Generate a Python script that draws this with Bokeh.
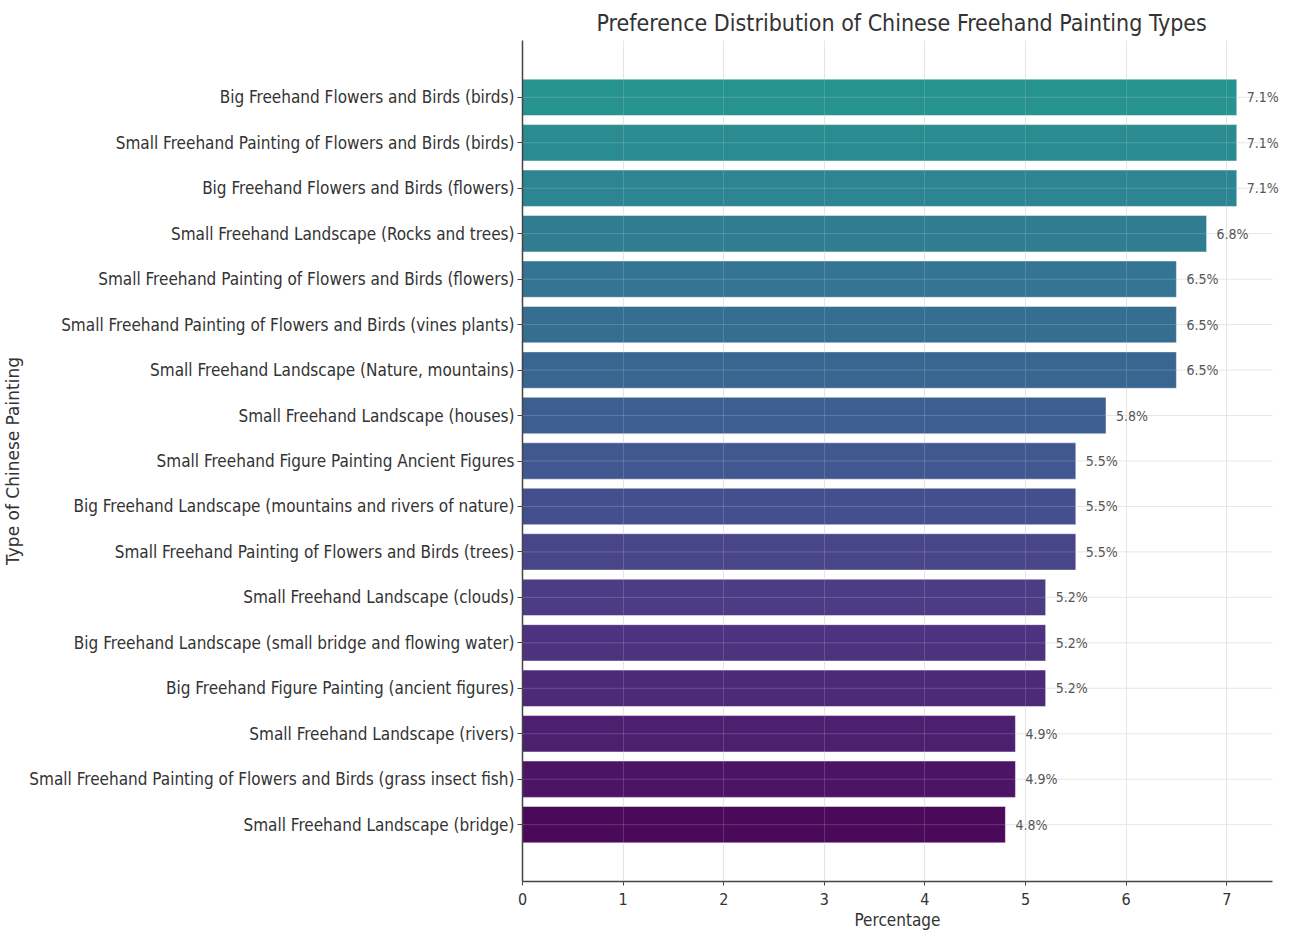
from bokeh.plotting import figure
from bokeh.models import (FactorRange, ColumnDataSource, FixedTicker, LabelSet,
                          Grid, Title)
from bokeh.core.properties import value
from bokeh.palettes import Viridis256
from bokeh.embed import file_html
from bokeh.resources import INLINE

# Painting types, listed from most to least preferred
categories = [
    "Big Freehand Flowers and Birds (birds)",
    "Small Freehand Painting of Flowers and Birds (birds)",
    "Big Freehand Flowers and Birds (flowers)",
    "Small Freehand Landscape (Rocks and trees)",
    "Small Freehand Painting of Flowers and Birds (flowers)",
    "Small Freehand Painting of Flowers and Birds (vines plants)",
    "Small Freehand Landscape (Nature, mountains)",
    "Small Freehand Landscape (houses)",
    "Small Freehand Figure Painting Ancient Figures",
    "Big Freehand Landscape (mountains and rivers of nature)",
    "Small Freehand Painting of Flowers and Birds (trees)",
    "Small Freehand Landscape (clouds)",
    "Big Freehand Landscape (small bridge and flowing water)",
    "Big Freehand Figure Painting (ancient figures)",
    "Small Freehand Landscape (rivers)",
    "Small Freehand Painting of Flowers and Birds (grass insect fish)",
    "Small Freehand Landscape (bridge)",
]
percentages = [7.1, 7.1, 7.1, 6.8, 6.5, 6.5, 6.5, 5.8, 5.5, 5.5, 5.5,
               5.2, 5.2, 5.2, 4.9, 4.9, 4.8]
x_ticks = [0, 1, 2, 3, 4, 5, 6, 7]

FONT = "DejaVu Sans Condensed"
AXIS_END = 7.455      # where the x axis line and row lines stop
VIEW_END = 7.634      # a little room to the right for the value labels

# bottom-to-top order for the categorical axis
cats_bt = categories[::-1]
vals_bt = percentages[::-1]
n = len(cats_bt)
# first half of viridis: dark purple at the bottom, teal at the top
colors_bt = [Viridis256[round(i / (n - 1) * 127)] for i in range(n)]

source = ColumnDataSource(dict(
    cat=cats_bt,
    val=vals_bt,
    color=colors_bt,
    label=[f"{v}%" for v in vals_bt],
))

p = figure(
    width=1290, height=934,
    y_range=FactorRange(factors=cats_bt, range_padding=0.75,
                        range_padding_units="absolute"),
    x_range=(0, VIEW_END),
    output_backend="svg", toolbar_location=None,
    min_border_left=0, min_border_right=0, min_border_top=40,
    min_border_bottom=53,
)

# light row lines behind the bars, ending with the x axis
p.segment(x0=0, x1=AXIS_END, y0="cat", y1="cat", source=source,
          line_color="#e6e6e6", line_width=1, level="underlay")

p.hbar(y="cat", right="val", height=0.8, left=0, source=source,
       fill_color="color", fill_alpha=0.97, line_color="white",
       line_alpha=0.45, line_width=1)

# faint light lines drawn across the bars
p.add_layout(Grid(dimension=0, ticker=FixedTicker(ticks=x_ticks), level="overlay",
                  grid_line_color="white", grid_line_alpha=0.18))
p.segment(x0=0, x1="val", y0="cat", y1="cat", source=source,
          line_color="white", line_alpha=0.18, line_width=1, level="overlay")

labels = LabelSet(x="val", y="cat", text="label", source=source,
                  x_offset=10, text_baseline="middle", text_align="left",
                  text_font=value(FONT), text_font_size=value("14px"),
                  text_color=value("#555555"))
p.add_layout(labels)

# title, centred over the axis span
p.add_layout(Title(text="Preference Distribution of Chinese Freehand Painting Types",
                   align="left", offset=74, text_font=FONT, text_font_size="23px",
                   text_font_style="normal", text_color="#333333"), "above")

# x axis title, centred under the axis span
p.add_layout(Title(text="Percentage", align="left", offset=332, text_font=FONT,
                   text_font_size="17px", text_font_style="normal",
                   text_color="#333333", standoff=0), "below")

# axes
p.xaxis.ticker = FixedTicker(ticks=x_ticks)
p.xaxis.bounds = (0, AXIS_END)
p.yaxis.axis_label = "Type of Chinese Painting"
for ax in (p.xaxis[0], p.yaxis[0]):
    ax.axis_label_text_font = FONT
    ax.axis_label_text_font_size = "17px"
    ax.axis_label_text_font_style = "normal"
    ax.axis_label_text_color = "#333333"
    ax.major_label_text_font = FONT
    ax.major_label_text_color = "#333333"
    ax.axis_line_color = "#444444"
    ax.axis_line_width = 1.5
    ax.major_tick_line_color = "#444444"
    ax.major_tick_in = 0
    ax.major_tick_out = 5
    ax.minor_tick_line_color = None
p.yaxis.axis_label_text_font = "DejaVu Sans"
p.xaxis.major_label_text_font_size = "16px"
p.yaxis.major_label_text_font_size = "17px"
p.xaxis.major_tick_out = 4
p.xaxis.major_label_standoff = 7
p.yaxis.axis_label_standoff = 3
p.yaxis.major_label_standoff = 3

p.xgrid.grid_line_color = "#e6e6e6"
p.ygrid.grid_line_color = None
p.outline_line_color = None
p.background_fill_color = "white"

open("out.html", "w").write(file_html(p, INLINE))
